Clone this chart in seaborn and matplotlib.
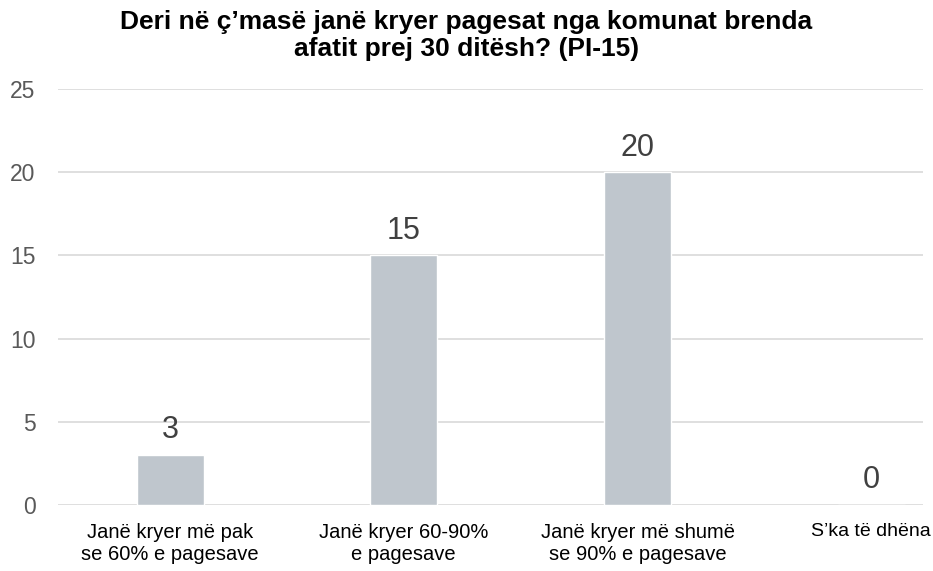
import matplotlib
matplotlib.use("Agg")
import matplotlib.pyplot as plt
import pandas as pd
import seaborn as sns

categories = [
    "Janë kryer më pak\nse 60% e pagesave",
    "Janë kryer 60-90%\ne pagesave",
    "Janë kryer më shumë\nse 90% e pagesave",
    "S’ka të dhëna",
]
values = [3, 15, 20, 0]
yticks = [0, 5, 10, 15, 20, 25]
title = "Deri në ç’masë janë kryer pagesat nga komunat brenda\nafatit prej 30 ditësh? (PI-15)"

sns.set_theme(style="white")
plt.rcParams["font.family"] = ["Liberation Sans", "DejaVu Sans"]

df = pd.DataFrame({"cat": categories, "val": values})

fig = plt.figure(figsize=(9.33, 5.71), dpi=100)
ax = fig.add_axes([0.062, 0.1156, 0.927, 0.7284])

ax.yaxis.grid(True, color="#D9D9D9", linewidth=1.2)
ax.set_axisbelow(True)
sns.barplot(data=df, x="cat", y="val", color="#BFC6CD", width=0.287,
            saturation=1, ax=ax)

# value labels above bars
for i, v in enumerate(values):
    ax.annotate(str(v), (i, v), xytext=(0, 7), textcoords="offset points",
                ha="center", va="bottom", fontsize=22, color="#404040")

ax.set_ylim(0, 25)
ax.set_yticks(yticks)
ax.set_xlim(-0.48, 3.22)
ax.set_xlabel("")
ax.set_ylabel("")
ax.tick_params(axis="y", labelsize=16.5, labelcolor="#595959", length=0, pad=16)
ax.tick_params(axis="x", labelsize=14.5, labelcolor="#000000", length=0, pad=13)
for s in ax.spines.values():
    s.set_visible(False)
# keep last category label inside the figure
ax.get_xticklabels()[-1].set_fontsize(14)

fig.text(0.5, 0.982, title, ha="center", va="top", fontsize=19,
         fontweight="bold", linespacing=1.12, color="black")

fig.savefig("out.png", dpi=100)
